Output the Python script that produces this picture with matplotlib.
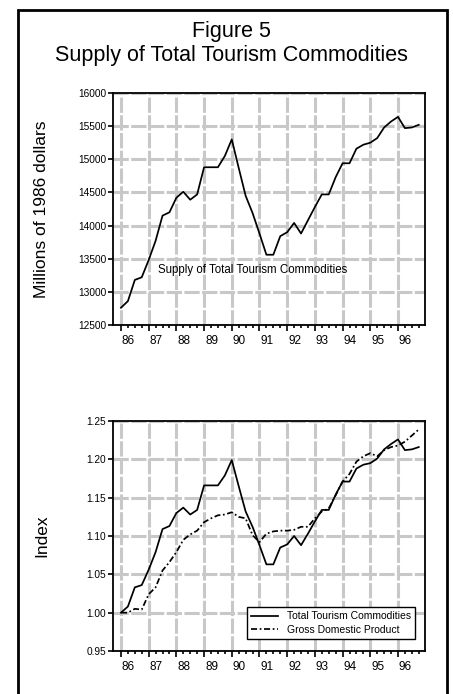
import numpy as np
import matplotlib
matplotlib.use('Agg')
import matplotlib.pyplot as plt
import matplotlib.transforms as mtransforms
from matplotlib.patches import Rectangle

plt.rcParams['font.family'] = ['Liberation Sans', 'DejaVu Sans']

# Quarterly data, 1986Q1 - 1996Q4
years = ['86', '87', '88', '89', '90', '91', '92', '93', '94', '95', '96']

supply = [12760, 12860, 13180, 13220,
          13480, 13770, 14150, 14200,
          14420, 14510, 14390, 14470,
          14880, 14880, 14880, 15050,
          15300, 14870, 14450, 14190,
          13880, 13560, 13560, 13840,
          13900, 14040, 13880, 14080,
          14280, 14470, 14470, 14730,
          14940, 14940, 15160, 15220,
          15250, 15320, 15480, 15570,
          15640, 15470, 15480, 15520]

tourism_index = [1.000, 1.008, 1.033, 1.036,
                 1.056, 1.079, 1.109, 1.113,
                 1.130, 1.137, 1.128, 1.134,
                 1.166, 1.166, 1.166, 1.179,
                 1.199, 1.165, 1.132, 1.112,
                 1.088, 1.063, 1.063, 1.085,
                 1.089, 1.100, 1.088, 1.103,
                 1.119, 1.134, 1.134, 1.154,
                 1.171, 1.171, 1.188, 1.193,
                 1.195, 1.201, 1.213, 1.220,
                 1.226, 1.212, 1.213, 1.216]

gdp_index = [1.000, 1.000, 1.005, 1.004,
             1.024, 1.033, 1.055, 1.066,
             1.079, 1.095, 1.102, 1.107,
             1.118, 1.123, 1.127, 1.128,
             1.131, 1.125, 1.123, 1.101,
             1.092, 1.103, 1.106, 1.107,
             1.107, 1.108, 1.112, 1.112,
             1.123, 1.132, 1.136, 1.153,
             1.171, 1.181, 1.197, 1.204,
             1.208, 1.204, 1.212, 1.216,
             1.218, 1.223, 1.231, 1.239]

q = np.arange(len(supply))

fig = plt.figure(figsize=(4.53, 6.94), dpi=100)

# outer frame
fig.patches.append(Rectangle((18 / 453, -0.05), (447 - 18) / 453, 1.05 - 10 / 694,
                             transform=fig.transFigure, fill=False,
                             edgecolor='black', linewidth=2))

fig.text(0.512, 1 - 32 / 694, 'Figure 5', ha='center', va='center', fontsize=15.5)
fig.text(0.512, 1 - 55 / 694, 'Supply of Total Tourism Commodities',
         ha='center', va='center', fontsize=15.5)

ax1 = fig.add_axes([113 / 453, 1 - 325 / 694, 312 / 453, 232 / 694])
ax2 = fig.add_axes([113 / 453, 1 - 651 / 694, 312 / 453, 230 / 694])

grid_kw = dict(color='#c8c8c8', linewidth=2.2, linestyle=(0, (5, 0.8)))


def style_axis(ax):
    ax.set_xlim(-1.15, 43.9)
    ax.set_xticks(np.arange(0, 44, 4))
    ax.set_xticks(q, minor=True)
    ax.set_xticklabels(years)
    ax.grid(True, which='major', **grid_kw)
    ax.set_axisbelow(True)
    for side in ['top', 'right', 'left', 'bottom']:
        ax.spines[side].set_linewidth(1.3)
    ax.tick_params(axis='x', which='major', direction='out', length=4, width=1.2,
                   labelsize=8.5, pad=3)
    ax.tick_params(axis='x', which='minor', direction='out', length=2.5, width=1.2)
    ax.tick_params(axis='y', which='major', direction='out', length=3.5, width=1.2,
                   labelsize=7.3, pad=1.5)
    offset = mtransforms.ScaledTranslation(0.075, 0, fig.dpi_scale_trans)
    for lab in ax.get_xticklabels():
        lab.set_transform(lab.get_transform() + offset)
    ax.yaxis.set_label_coords(-0.205, 0.5)


# top panel
ax1.plot(q, supply, color='black', linewidth=1.25)
ax1.set_ylim(12500, 16000)
ax1.set_yticks(np.arange(12500, 16001, 500))
style_axis(ax1)
ax1.set_ylabel('Millions of 1986 dollars', fontsize=12.5)
ax1.text(5.3, 13330, 'Supply of Total Tourism Commodities', fontsize=8.3,
         va='center', ha='left')

# bottom panel
ax2.plot(q, tourism_index, color='black', linewidth=1.25,
         label='Total Tourism Commodities')
ax2.plot(q, gdp_index, color='black', linewidth=1.25,
         linestyle=(0, (3.5, 1.5, 1, 1.5)), label='Gross Domestic Product')
ax2.set_ylim(0.95, 1.25)
ax2.set_yticks(np.arange(0.95, 1.2501, 0.05))
ax2.set_yticklabels([f'{v:.2f}' for v in np.arange(0.95, 1.2501, 0.05)])
style_axis(ax2)
ax2.set_ylabel('Index', fontsize=12.5)

leg = ax2.legend(loc='lower right', bbox_to_anchor=(0.968, 0.052), fontsize=7.5,
                 frameon=True, fancybox=False, framealpha=1, edgecolor='black',
                 borderpad=0.4, handlelength=2.6, labelspacing=0.35,
                 handletextpad=0.8, borderaxespad=0)
leg.get_frame().set_linewidth(1.0)

fig.savefig('out.png', dpi=100)
